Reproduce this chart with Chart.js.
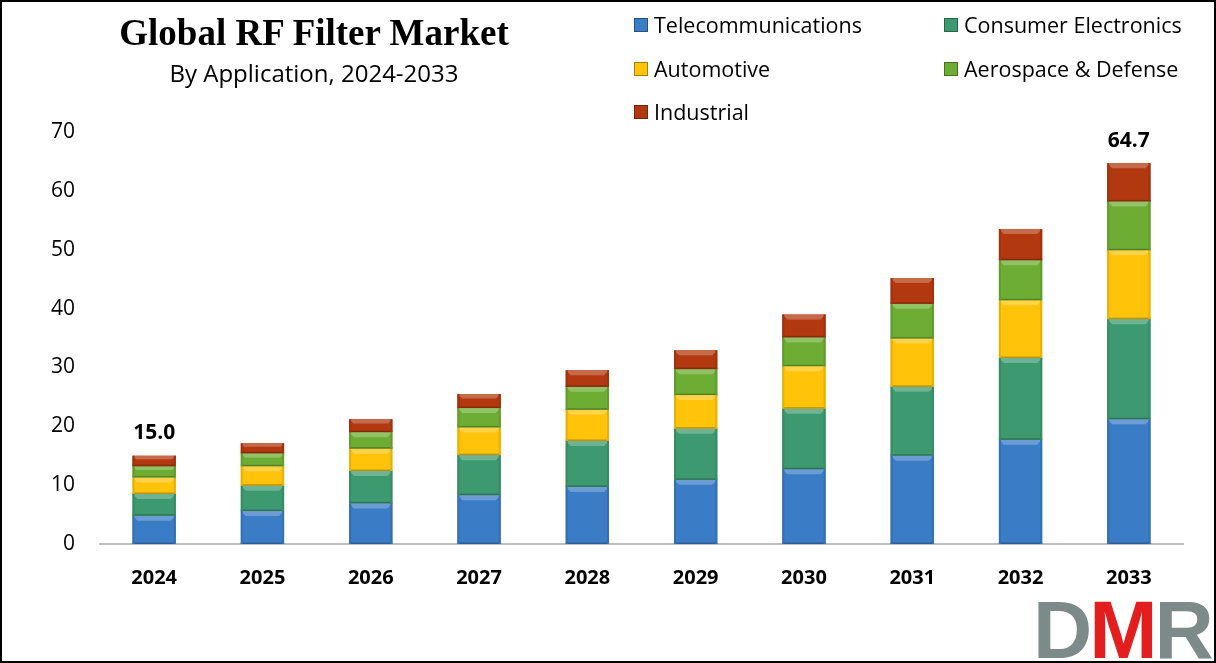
<!DOCTYPE html>
<html>
<head>
<meta charset="utf-8">
<script src="https://cdn.jsdelivr.net/npm/chart.js@4.4.1/dist/chart.umd.min.js"></script>
<style>
    html, body { margin: 0; padding: 0; background: #fff; }
    #wrap {
        position: relative; width: 1216px; height: 663px;
        box-sizing: border-box; border: 2px solid #000; overflow: hidden;
    }
    #chart { position: absolute; left: 0; top: 0; }
    .title {
        position: absolute; left: 62px; width: 500px; text-align: center;
        top: 9px; font: bold 37px "Liberation Serif", "DejaVu Serif", serif; color: #000;
    }
    .subtitle {
        position: absolute; left: 62px; width: 500px; text-align: center;
        top: 54px; font: 24px "Open Sans", "Liberation Sans", sans-serif; color: #000;
    }
    .legend { position: absolute; left: 632px; top: 8px; font: 21.5px "Open Sans", "Liberation Sans", sans-serif; color: #000; }
    .legend .item { position: absolute; white-space: nowrap; display: flex; align-items: center; }
    .legend .box { width: 14px; height: 14px; margin-right: 6px; box-sizing: border-box; border: 1px solid rgba(0,0,0,0.35); }
    .logo {
        position: absolute; left: 1031px; top: 588px;
        font: bold 82px "Liberation Sans", "DejaVu Sans", sans-serif; letter-spacing: -3px; line-height: 80px;
    }
</style>
</head>
<body>
<div id="wrap">
    <canvas id="chart" width="1212" height="659"></canvas>
    <div class="title">Global RF Filter Market</div>
    <div class="subtitle">By Application, 2024-2033</div>
    <div class="legend" id="legend"></div>
    <div class="logo"><span style="color:#7d8a8a">D</span><span style="color:#e41e1e">M</span><span style="color:#7d8a8a">R</span></div>
</div>
<script>
    // Data
    const years = ['2024', '2025', '2026', '2027', '2028', '2029', '2030', '2031', '2032', '2033'];
    const telecom    = [4.8, 5.6, 6.9, 8.3, 9.7, 10.9, 12.7, 15.0, 17.7, 21.2];
    const consumer   = [3.7, 4.3, 5.5, 6.8, 7.8, 8.7, 10.3, 11.7, 13.9, 17.0];
    const automotive = [2.8, 3.3, 3.8, 4.7, 5.3, 5.7, 7.2, 8.2, 9.8, 11.7];
    const aerospace  = [1.9, 2.2, 2.8, 3.3, 3.9, 4.4, 4.9, 5.9, 6.8, 8.3];
    const industrial = [1.8, 1.7, 2.2, 2.4, 2.8, 3.2, 3.9, 4.4, 5.3, 6.5];
    const totalLabels = { 0: '15.0', 9: '64.7' };
    const yTicks = [0, 10, 20, 30, 40, 50, 60, 70];

    const seriesNames = ['Telecommunications', 'Consumer Electronics', 'Automotive', 'Aerospace & Defense', 'Industrial'];
    const seriesData = [telecom, consumer, automotive, aerospace, industrial];
    const seriesColors = ['#3a7cc6', '#3d9a70', '#ffc30a', '#6dad33', '#b2380f'];

    // legend placed like the original (2 columns, 3 rows)
    const legendPos = [[0, 0], [310, 0], [0, 44], [310, 44], [0, 87]];
    const legendEl = document.getElementById('legend');
    seriesNames.forEach((name, i) => {
        const item = document.createElement('div');
        item.className = 'item';
        item.style.left = legendPos[i][0] + 'px';
        item.style.top = legendPos[i][1] + 'px';
        item.innerHTML = `<span class="box" style="background:${seriesColors[i]}"></span>${name}`;
        legendEl.appendChild(item);
    });

    function shade(hex, amt) {
        const n = parseInt(hex.slice(1), 16);
        let r = (n >> 16) & 255, g = (n >> 8) & 255, b = n & 255;
        const f = c => Math.max(0, Math.min(255, Math.round(amt > 0 ? c + (255 - c) * amt : c * (1 + amt))));
        return `rgb(${f(r)},${f(g)},${f(b)})`;
    }

    // soft bevel like the office-style bars
    const bevelPlugin = {
        id: 'bevel',
        afterDatasetsDraw(chart) {
            const ctx = chart.ctx;
            chart.data.datasets.forEach((ds, di) => {
                const meta = chart.getDatasetMeta(di);
                meta.data.forEach(bar => {
                    const { x, y, base, width } = bar.getProps(['x', 'y', 'base', 'width'], true);
                    const l = x - width / 2, r = x + width / 2, t = y, b = base;
                    const h = b - t;
                    const e = Math.min(5, h / 3);
                    ctx.save();
                    ctx.fillStyle = shade(ds.backgroundColor, 0.25);
                    ctx.beginPath();
                    ctx.moveTo(l, t); ctx.lineTo(r, t); ctx.lineTo(r - e, t + e); ctx.lineTo(l + e, t + e);
                    ctx.closePath(); ctx.fill();
                    ctx.fillStyle = shade(ds.backgroundColor, -0.25);
                    ctx.fillRect(l, b - 1.5, width, 1.5);
                    ctx.fillStyle = shade(ds.backgroundColor, -0.1);
                    ctx.fillRect(l, t, 2, h);
                    ctx.fillRect(r - 2, t, 2, h);
                    ctx.restore();
                });
            });
        }
    };

    const totalsPlugin = {
        id: 'totals',
        afterDraw(chart) {
            const ctx = chart.ctx;
            const xs = chart.scales.x, ys = chart.scales.y;
            ctx.save();
            ctx.font = 'bold 21px "Open Sans", "Liberation Sans", sans-serif';
            ctx.fillStyle = '#000';
            ctx.textAlign = 'center';
            ctx.textBaseline = 'bottom';
            Object.keys(totalLabels).forEach(k => {
                const i = Number(k);
                const sum = seriesData.reduce((s, arr) => s + arr[i], 0);
                ctx.fillText(totalLabels[k], xs.getPixelForValue(i), ys.getPixelForValue(sum) - 12);
            });
            ctx.restore();
        }
    };

    new Chart(document.getElementById('chart').getContext('2d'), {
        type: 'bar',
        data: {
            labels: years,
            datasets: seriesNames.map((name, i) => ({
                label: name,
                data: seriesData[i],
                backgroundColor: seriesColors[i],
                borderWidth: 0,
                barPercentage: 0.8,
                categoryPercentage: 0.5
            }))
        },
        options: {
            responsive: false,
            animation: false,
            layout: { padding: { top: 130, right: 31, left: 0, bottom: 0 } },
            plugins: { legend: { display: false }, tooltip: { enabled: false } },
            scales: {
                x: {
                    stacked: true,
                    grid: { display: false },
                    border: { color: '#bfbfbf', width: 2 },
                    ticks: { color: '#000', font: { family: '"Open Sans", "Liberation Sans", sans-serif', size: 20, weight: 'bold' }, padding: 14 },
                    afterFit(scale) { scale.height = 117; }
                },
                y: {
                    stacked: true,
                    min: 0, max: 70,
                    afterBuildTicks(scale) { scale.ticks = yTicks.map(v => ({ value: v })); },
                    grid: { display: false },
                    border: { display: false },
                    ticks: { color: '#000', font: { family: '"Open Sans", "Liberation Sans", sans-serif', size: 21 }, padding: 17 },
                    afterFit(scale) { scale.width = 98; }
                }
            }
        },
        plugins: [bevelPlugin, totalsPlugin]
    });
</script>
</body>
</html>
